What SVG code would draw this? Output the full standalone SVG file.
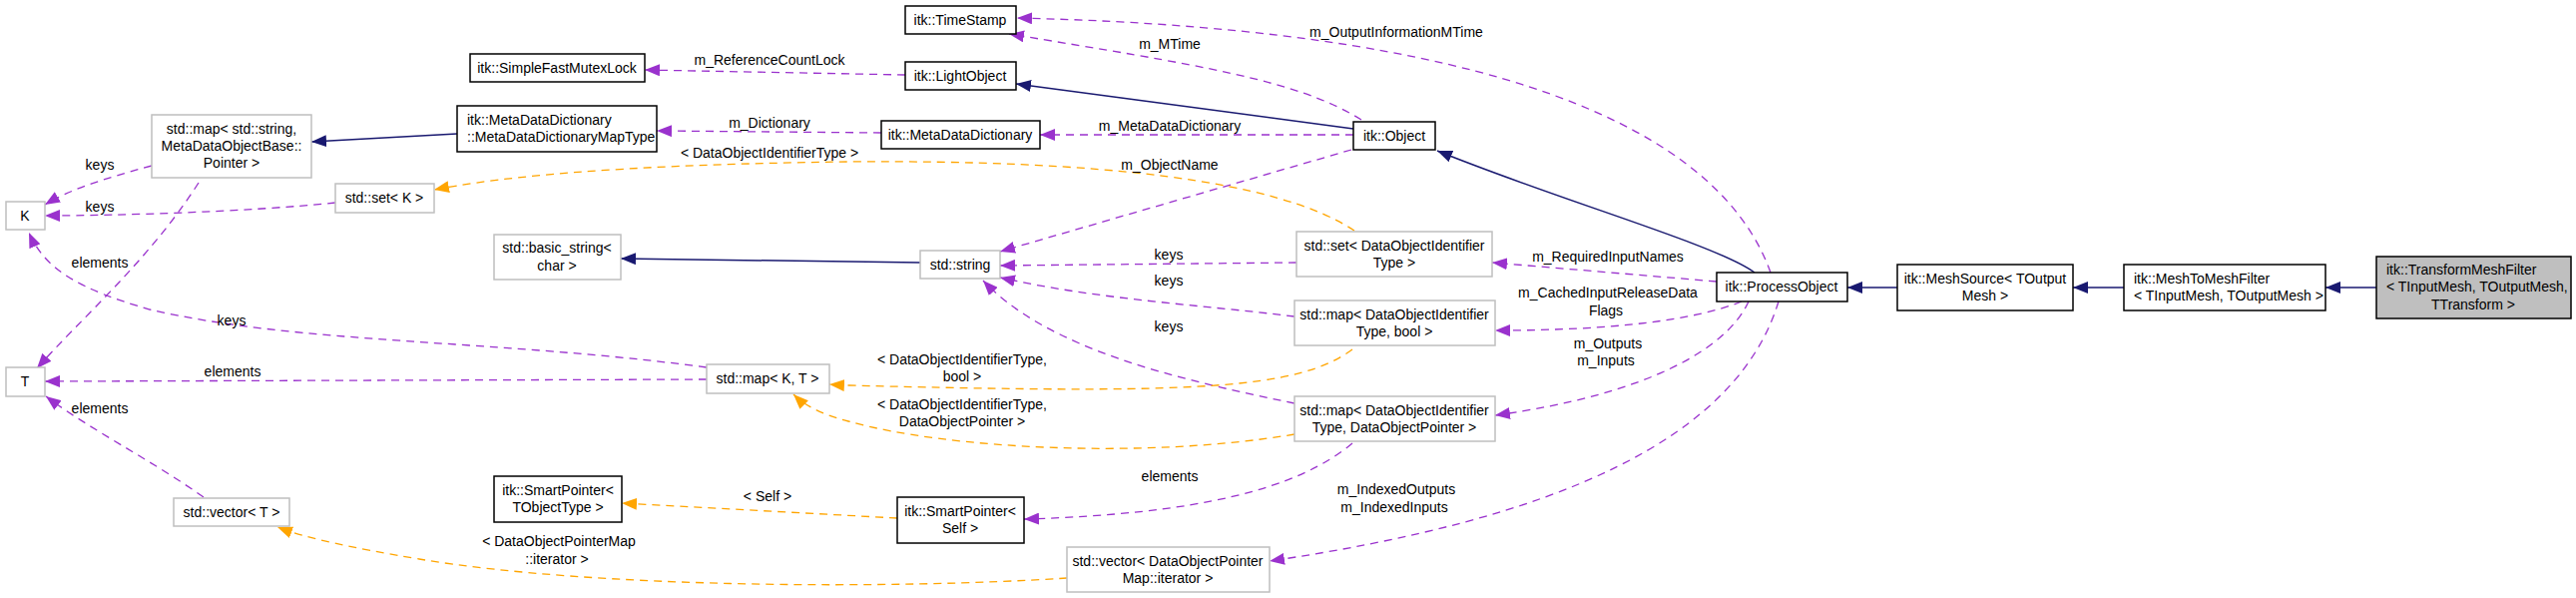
<svg xmlns="http://www.w3.org/2000/svg" width="2581" height="599" viewBox="0 0 2581 599">
<style>
text{font-family:"Liberation Sans",Arial,sans-serif;font-size:14px;fill:#000}
.n rect{fill:#fff;stroke:#000;stroke-width:1.5}
.s rect{fill:#fff;stroke:#bfbfbf;stroke-width:1.5}
.c text{text-anchor:middle}
.n text,.s text{text-anchor:middle}
.l{text-anchor:start!important}
.inh{fill:none;stroke:#191970;stroke-width:1.5;marker-end:url(#an)}
.use{fill:none;stroke:#9a32cd;stroke-width:1.3;stroke-dasharray:8,6;marker-end:url(#ap)}
.tpl{fill:none;stroke:#ffa500;stroke-width:1.3;stroke-dasharray:8,6;marker-end:url(#ao)}
</style>
<defs>
<marker id="an" markerUnits="userSpaceOnUse" markerWidth="16" markerHeight="12" refX="15" refY="6" orient="auto"><path d="M0,0L15,6L0,12z" fill="#191970"/></marker>
<marker id="ap" markerUnits="userSpaceOnUse" markerWidth="16" markerHeight="12" refX="15" refY="6" orient="auto"><path d="M0,0L15,6L0,12z" fill="#9a32cd"/></marker>
<marker id="ao" markerUnits="userSpaceOnUse" markerWidth="16" markerHeight="12" refX="15" refY="6" orient="auto"><path d="M0,0L15,6L0,12z" fill="#ffa500"/></marker>
</defs>
<g id="connectors">
<path class="inh" d="M2381,288L2330,288"/>
<path class="inh" d="M2128,288L2077,288"/>
<path class="inh" d="M1901,288L1851,288"/>
<path class="inh" d="M1758,273C1720,245 1560,200 1440,151"/>
<path class="inh" d="M1356,129L1018,84"/>
<path class="inh" d="M458,134L312,142"/>
<path class="inh" d="M922,263L622,259"/>
<path class="use" d="M907,75L646,70"/>
<path class="use" d="M1364,120C1300,80 1200,65 1011,34"/>
<path class="use" d="M1774,273C1730,150 1550,30 1019,18"/>
<path class="use" d="M1356,135L1042,135"/>
<path class="use" d="M883,133L658,131"/>
<path class="use" d="M1354,150L1002,252"/>
<path class="use" d="M1720,282L1495,263"/>
<path class="use" d="M1745,302C1700,320 1620,331 1498,331"/>
<path class="use" d="M1752,302C1730,350 1650,395 1498,416"/>
<path class="use" d="M1782,302C1740,440 1560,520 1272,562"/>
<path class="use" d="M1299,263L1002,266"/>
<path class="use" d="M1297,317C1200,305 1100,300 1002,278"/>
<path class="use" d="M1297,404C1180,380 1050,350 985,281"/>
<path class="use" d="M1355,444C1300,490 1200,515 1026,520"/>
<path class="use" d="M152,166C100,180 70,190 45,205"/>
<path class="use" d="M336,203C250,212 120,216 45,216"/>
<path class="use" d="M199,183C150,260 80,320 37,369"/>
<path class="use" d="M708,368C500,340 300,345 150,310C80,290 45,270 29,233"/>
<path class="use" d="M708,380L45,382"/>
<path class="use" d="M204,498C150,460 90,430 46,397"/>
<path class="tpl" d="M1357,231C1280,180 1100,160 850,162C700,164 540,170 435,190"/>
<path class="tpl" d="M1355,350C1300,390 1200,395 850,386C820,385 845,386 831,385"/>
<path class="tpl" d="M1297,435C1150,460 950,450 850,422C820,414 805,405 795,395"/>
<path class="tpl" d="M899,519L623,504"/>
<path class="tpl" d="M1069,579C900,590 600,590 420,560C350,548 310,540 278,528"/>
<g class="c">
<text x="771" y="65">m_ReferenceCountLock</text>
<text x="771" y="128">m_Dictionary</text>
<text x="771" y="158">&lt; DataObjectIdentifierType &gt;</text>
<text x="100" y="170">keys</text>
<text x="100" y="212">keys</text>
<text x="100" y="268">elements</text>
<text x="232" y="326">keys</text>
<text x="233" y="377">elements</text>
<text x="100" y="414">elements</text>
<text x="769" y="502">&lt; Self &gt;</text>
<text x="560" y="547">&lt; DataObjectPointerMap</text>
<text x="558" y="565">::iterator &gt;</text>
<text x="1172" y="49">m_MTime</text>
<text x="1399" y="37">m_OutputInformationMTime</text>
<text x="1172" y="131">m_MetaDataDictionary</text>
<text x="1172" y="170">m_ObjectName</text>
<text x="1171" y="260">keys</text>
<text x="1171" y="286">keys</text>
<text x="1171" y="332">keys</text>
<text x="1611" y="262">m_RequiredInputNames</text>
<text x="1611" y="298">m_CachedInputReleaseData</text>
<text x="1609" y="316">Flags</text>
<text x="1611" y="349">m_Outputs</text>
<text x="1609" y="366">m_Inputs</text>
<text x="964" y="365">&lt; DataObjectIdentifierType,</text>
<text x="964" y="382">bool &gt;</text>
<text x="964" y="410">&lt; DataObjectIdentifierType,</text>
<text x="964" y="427">DataObjectPointer &gt;</text>
<text x="1172" y="482">elements</text>
<text x="1399" y="495">m_IndexedOutputs</text>
<text x="1397" y="513">m_IndexedInputs</text>
</g>
</g>
<g id="TransformMeshFilter" class="n"><rect x="2381" y="257" width="195" height="62" style="fill:#bfbfbf"/><text class="l" x="2391" y="275">itk::TransformMeshFilter</text><text class="l" x="2391" y="292">&lt; TInputMesh, TOutputMesh,</text><text x="2478" y="310">TTransform &gt;</text></g>
<g id="MeshToMeshFilter" class="n"><rect x="2128" y="265" width="202" height="46"/><text class="l" x="2138" y="284">itk::MeshToMeshFilter</text><text class="l" x="2138" y="301">&lt; TInputMesh, TOutputMesh &gt;</text></g>
<g id="MeshSource" class="n"><rect x="1901" y="265" width="176" height="46"/><text x="1989" y="284">itk::MeshSource&lt; TOutput</text><text x="1989" y="301">Mesh &gt;</text></g>
<g id="ProcessObject" class="n"><rect x="1720" y="273" width="131" height="29"/><text x="1785" y="292">itk::ProcessObject</text></g>
<g id="Object" class="n"><rect x="1356" y="122" width="82" height="28"/><text x="1397" y="141">itk::Object</text></g>
<g id="TimeStamp" class="n"><rect x="907" y="6" width="111" height="28"/><text x="962" y="25">itk::TimeStamp</text></g>
<g id="LightObject" class="n"><rect x="907" y="62" width="111" height="28"/><text x="962" y="81">itk::LightObject</text></g>
<g id="MetaDataDictionary" class="n"><rect x="883" y="121" width="159" height="28"/><text x="962" y="140">itk::MetaDataDictionary</text></g>
<g id="SimpleFastMutexLock" class="n"><rect x="471" y="54" width="175" height="28"/><text x="558" y="73">itk::SimpleFastMutexLock</text></g>
<g id="MapType" class="n"><rect x="458" y="106" width="200" height="46"/><text class="l" x="468" y="125">itk::MetaDataDictionary</text><text class="l" x="468" y="142">::MetaDataDictionaryMapType</text></g>
<g id="MapStringPointer" class="s"><rect x="152" y="115" width="160" height="63"/><text x="232" y="134">std::map&lt; std::string,</text><text x="232" y="151">MetaDataObjectBase::</text><text x="232" y="168">Pointer &gt;</text></g>
<g id="K" class="s"><rect x="6" y="202" width="39" height="28"/><text x="25" y="221">K</text></g>
<g id="T" class="s"><rect x="6" y="368" width="39" height="29"/><text x="25" y="387">T</text></g>
<g id="SetK" class="s"><rect x="336" y="184" width="99" height="29"/><text x="385" y="203">std::set&lt; K &gt;</text></g>
<g id="BasicString" class="s"><rect x="495" y="235" width="127" height="45"/><text x="558" y="253">std::basic_string&lt;</text><text x="558" y="271">char &gt;</text></g>
<g id="StdString" class="s"><rect x="922" y="251" width="80" height="28"/><text x="962" y="270">std::string</text></g>
<g id="MapKT" class="s"><rect x="708" y="365" width="123" height="29"/><text x="769" y="384">std::map&lt; K, T &gt;</text></g>
<g id="VectorT" class="s"><rect x="174" y="499" width="116" height="28"/><text x="232" y="518">std::vector&lt; T &gt;</text></g>
<g id="SmartPointerTObj" class="n"><rect x="495" y="477" width="128" height="46"/><text x="559" y="496">itk::SmartPointer&lt;</text><text x="559" y="513">TObjectType &gt;</text></g>
<g id="SmartPointerSelf" class="n"><rect x="899" y="498" width="127" height="46"/><text x="962" y="517">itk::SmartPointer&lt;</text><text x="962" y="534">Self &gt;</text></g>
<g id="SetDOIT" class="s"><rect x="1299" y="232" width="196" height="45"/><text x="1397" y="251">std::set&lt; DataObjectIdentifier</text><text x="1397" y="268">Type &gt;</text></g>
<g id="MapDOITBool" class="s"><rect x="1297" y="301" width="201" height="45"/><text x="1397" y="320">std::map&lt; DataObjectIdentifier</text><text x="1397" y="337">Type, bool &gt;</text></g>
<g id="MapDOITDOP" class="s"><rect x="1297" y="397" width="201" height="45"/><text x="1397" y="416">std::map&lt; DataObjectIdentifier</text><text x="1397" y="433">Type, DataObjectPointer &gt;</text></g>
<g id="VectorIter" class="s"><rect x="1069" y="548" width="203" height="45"/><text x="1170" y="567">std::vector&lt; DataObjectPointer</text><text x="1170" y="584">Map::iterator &gt;</text></g>
</svg>
